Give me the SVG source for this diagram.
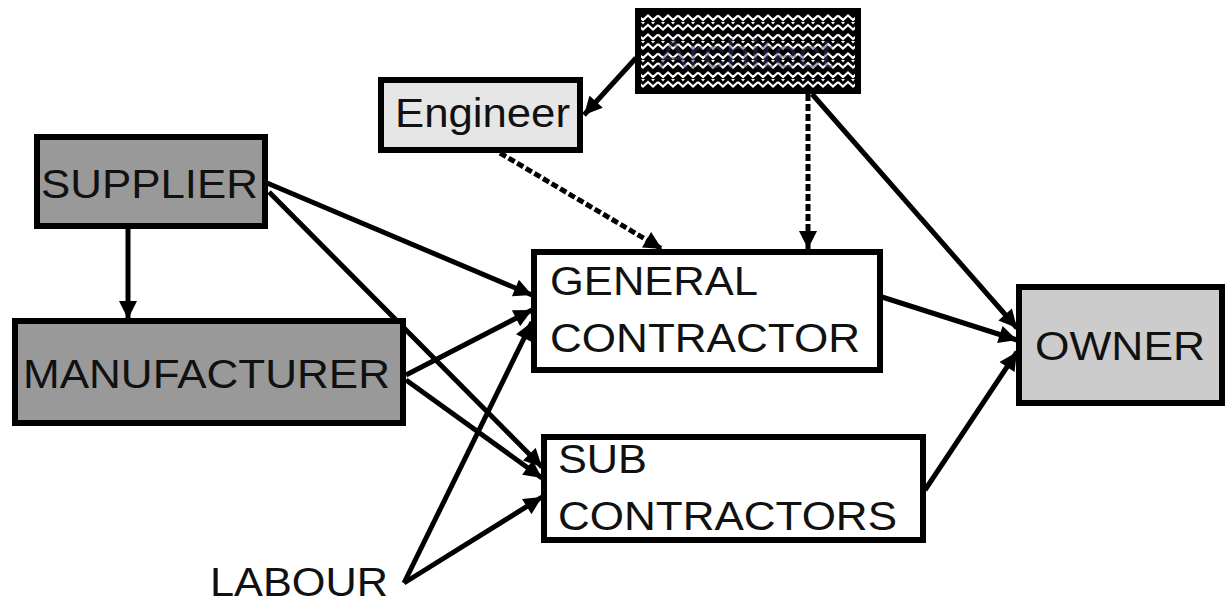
<svg xmlns="http://www.w3.org/2000/svg" width="1225" height="606" viewBox="0 0 1225 606">
<style>
.box{stroke:#000;stroke-width:6}
.t{font-family:"Liberation Sans",Arial,sans-serif;font-size:41px;fill:#111}
.c{stroke:#000;stroke-width:5;fill:none}
.d{stroke:#000;stroke-width:5;fill:none;stroke-dasharray:7 3}
</style>
<defs>
<marker id="ah" viewBox="0 0 10 10" refX="10" refY="5" markerWidth="19" markerHeight="18" markerUnits="userSpaceOnUse" orient="auto">
<path d="M0,0 L10,5 L0,10 z" fill="#000"/>
</marker>
<pattern id="wave" x="638" y="13" width="20" height="19" patternUnits="userSpaceOnUse">
<rect width="20" height="19" fill="#000"/>
<polyline points="0,2.5 5,7 10,2.5 15,7 20,2.5" stroke="#fff" stroke-width="2.2" fill="none"/>
<polyline points="0,12 5,16.5 10,12 15,16.5 20,12" stroke="#fff" stroke-width="2.2" fill="none"/>
<path d="M3,9 h4 l-2,2.5 z M13,9 h4 l-2,2.5 z" fill="#fff"/>
</pattern>
</defs>
<rect width="1225" height="606" fill="#fff"/>
<g id="connectors">
<line class="c" x1="636" y1="58" x2="584" y2="115" marker-end="url(#ah)"/>
<line class="d" x1="808" y1="94" x2="808" y2="249" marker-end="url(#ah)"/>
<line class="d" x1="500" y1="153" x2="662" y2="249" marker-end="url(#ah)"/>
<line class="c" x1="812" y1="94" x2="1017" y2="328" marker-end="url(#ah)"/>
<line class="c" x1="882" y1="297" x2="1017" y2="340" marker-end="url(#ah)"/>
<line class="c" x1="925" y1="490" x2="1017" y2="352" marker-end="url(#ah)"/>
<line class="c" x1="128" y1="228" x2="128" y2="319" marker-end="url(#ah)"/>
<line class="c" x1="267" y1="183" x2="532" y2="295" marker-end="url(#ah)"/>
<line class="c" x1="269" y1="192" x2="542" y2="467" marker-end="url(#ah)"/>
<line class="c" x1="406" y1="375" x2="532" y2="310" marker-end="url(#ah)"/>
<line class="c" x1="406" y1="380" x2="542" y2="478" marker-end="url(#ah)"/>
<line class="c" x1="404" y1="583" x2="532" y2="322" marker-end="url(#ah)"/>
<line class="c" x1="404" y1="583" x2="542" y2="497" marker-end="url(#ah)"/>
</g>
<g id="architect">
<rect class="box" x="638" y="11" width="220" height="80" fill="url(#wave)"/>
<text class="t" x="658" y="68" textLength="175" lengthAdjust="spacingAndGlyphs" style="fill:#3a3a6a;opacity:0.45">Architect</text>
</g>
<g id="engineer">
<rect class="box" x="381" y="80" width="199" height="70" fill="#e6e6e6"/>
<text class="t" x="395" y="127" textLength="175" lengthAdjust="spacingAndGlyphs">Engineer</text>
</g>
<g id="supplier">
<rect class="box" x="37" y="137" width="228" height="89" fill="#999"/>
<text class="t" x="41" y="198" textLength="217" lengthAdjust="spacingAndGlyphs">SUPPLIER</text>
</g>
<g id="manufacturer">
<rect class="box" x="15" y="321" width="388" height="102" fill="#999"/>
<text class="t" x="23" y="388" textLength="367" lengthAdjust="spacingAndGlyphs">MANUFACTURER</text>
</g>
<g id="general-contractor">
<rect class="box" x="534" y="252" width="346" height="118" fill="#fff"/>
<text class="t" x="550" y="295" textLength="208" lengthAdjust="spacingAndGlyphs">GENERAL</text>
<text class="t" x="550" y="352" textLength="310" lengthAdjust="spacingAndGlyphs">CONTRACTOR</text>
</g>
<g id="sub-contractors">
<rect class="box" x="544" y="437" width="379" height="103" fill="#fff"/>
<text class="t" x="558" y="473" textLength="89" lengthAdjust="spacingAndGlyphs">SUB</text>
<text class="t" x="558" y="530" textLength="339" lengthAdjust="spacingAndGlyphs">CONTRACTORS</text>
</g>
<g id="owner">
<rect class="box" x="1019" y="287" width="203" height="116" fill="#ccc"/>
<text class="t" x="1035" y="360" textLength="170" lengthAdjust="spacingAndGlyphs">OWNER</text>
</g>
<g id="labour">
<text class="t" x="210" y="596" textLength="178" lengthAdjust="spacingAndGlyphs">LABOUR</text>
</g>
</svg>
